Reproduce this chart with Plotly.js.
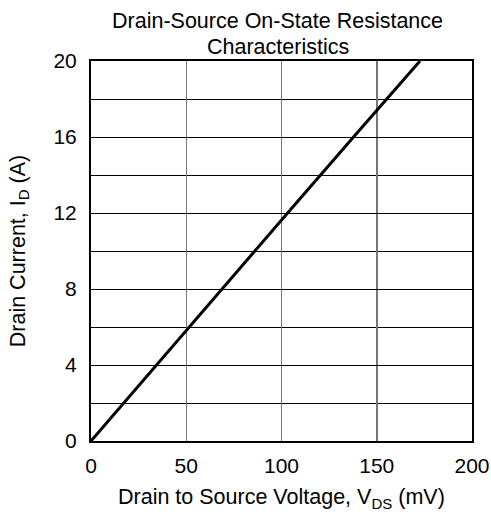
<!DOCTYPE html>
<html>
<head>
<meta charset="utf-8">
<script src="https://cdn.plot.ly/plotly-3.0.1.min.js"></script>
<style>html,body{margin:0;padding:0;background:#fff;}#chart{width:491px;height:519px;}</style>
</head>
<body>
<div id="chart"></div>
<script>
// Drain-source voltage (mV) read at each drain current level
const vdsMilliVolts = [0, 34.3, 68.7, 103.2, 137.8, 172.7];
const drainCurrentAmps = [0, 4, 8, 12, 16, 20];
const xTickValues = [0, 50, 100, 150, 200];
const yTickValues = [0, 4, 8, 12, 16, 20];
const titleLines = ['Drain-Source On-State Resistance', 'Characteristics'];
const xTitleText = 'Drain to Source Voltage, V<sub>DS</sub> (mV)';
const yTitleText = 'Drain Current, I<sub>D</sub> (A)';

const fontFamily = 'Arial, "Liberation Sans", sans-serif';
const titleFont = {family: fontFamily, size: 21.5, color: '#000'};

const trace = {
  x: vdsMilliVolts,
  y: drainCurrentAmps,
  type: 'scatter',
  mode: 'lines',
  line: {color: '#000', width: 3},
  hoverinfo: 'skip'
};

const titleShifts = [40, 14];
const annotations = titleLines.map((t, i) => ({
  text: t,
  xref: 'paper', yref: 'paper',
  x: 0.49, y: 1, xanchor: 'center', yanchor: 'middle',
  yshift: titleShifts[i],
  showarrow: false,
  font: titleFont
}));
annotations.push({
  text: xTitleText,
  xref: 'paper', yref: 'paper',
  x: 0.5, y: 0, xanchor: 'center', yanchor: 'middle',
  yshift: -57,
  showarrow: false,
  font: titleFont
});

const layout = {
  width: 491,
  height: 519,
  margin: {l: 91, r: 19, t: 61, b: 78},
  paper_bgcolor: '#fff',
  plot_bgcolor: '#fff',
  showlegend: false,
  font: {family: fontFamily, size: 21, color: '#000'},
  annotations: annotations,
  xaxis: {
    range: [0, 200],
    tickvals: xTickValues,
    ticktext: xTickValues.map(String),
    ticks: '',
    showgrid: true,
    gridcolor: '#777',
    gridwidth: 1.5,
    showline: true,
    linecolor: '#000',
    linewidth: 2,
    mirror: true,
    zeroline: false,
    ticklabelstandoff: 5,
    tickfont: {family: fontFamily, size: 21, color: '#000'}
  },
  yaxis: {
    range: [0, 20],
    tickvals: yTickValues,
    ticktext: yTickValues.map(String),
    ticks: '',
    showgrid: true,
    gridcolor: '#000',
    gridwidth: 1,
    minor: {dtick: 2, showgrid: true, gridcolor: '#000', gridwidth: 1},
    showline: true,
    linecolor: '#000',
    linewidth: 2,
    mirror: true,
    zeroline: false,
    ticklabelstandoff: 8,
    tickfont: {family: fontFamily, size: 21, color: '#000'},
    title: {text: yTitleText, font: titleFont, standoff: 22}
  }
};

Plotly.newPlot('chart', [trace], layout, {staticPlot: true, displayModeBar: false});
</script>
</body>
</html>
